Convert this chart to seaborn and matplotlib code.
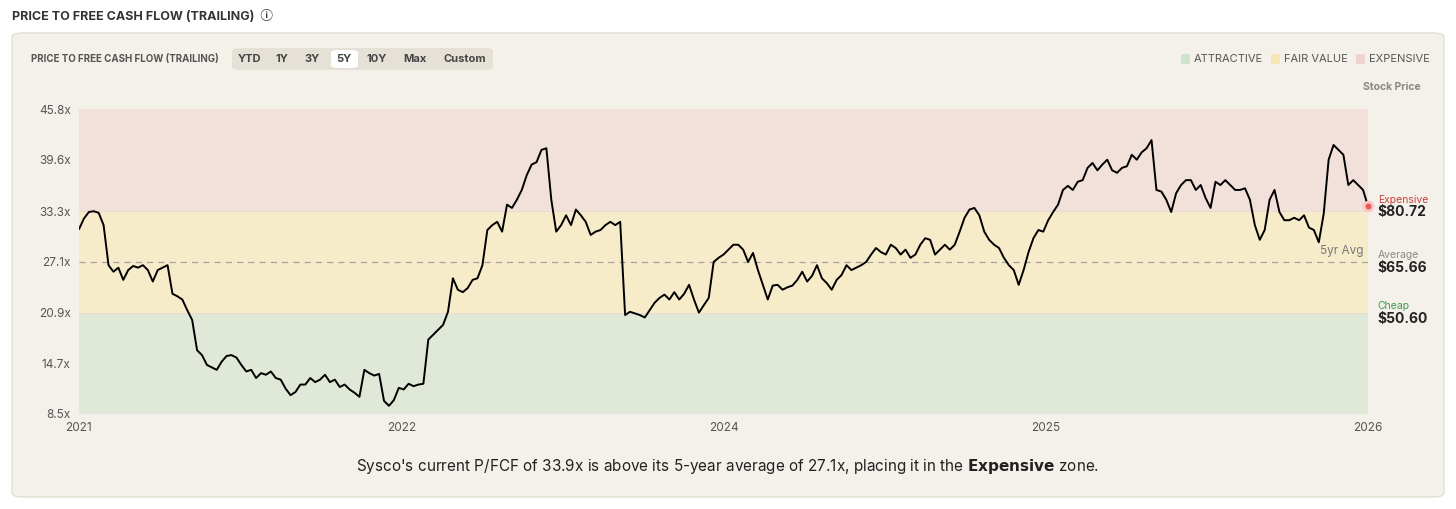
import numpy as np
import pandas as pd
import matplotlib.pyplot as plt
import seaborn as sns
from matplotlib.patches import FancyBboxPatch

# P/FCF multiple, sampled evenly from start of 2021 to 2026
pfcf = [31.1, 32.4, 33.2, 33.3, 33.1, 31.6, 26.7, 25.9, 26.4, 24.9, 26.1, 26.6, 26.4, 26.7, 26.1, 24.7,
        26.1, 26.4, 26.7, 23.2, 22.9, 22.5, 21.2, 20.0, 16.3, 15.7, 14.5, 14.2, 13.9, 14.9, 15.6, 15.7,
        15.4, 14.5, 13.7, 13.9, 12.9, 13.5, 13.3, 13.7, 12.9, 12.7, 11.6, 10.8, 11.2, 12.1, 12.1, 12.9,
        12.4, 12.7, 13.3, 12.4, 12.7, 11.8, 12.1, 11.5, 11.1, 10.6, 13.9, 13.5, 13.2, 13.4, 10.1, 9.5,
        10.2, 11.7, 11.5, 12.2, 11.9, 12.1, 12.2, 17.6, 18.2, 18.8, 19.4, 21.0, 25.1, 23.7, 23.4, 23.9,
        24.9, 25.1, 26.7, 31.0, 31.6, 32.0, 30.8, 34.1, 33.7, 34.7, 35.9, 37.7, 39.0, 39.3, 40.8, 41.0,
        34.7, 30.8, 31.6, 32.8, 31.6, 33.5, 32.8, 32.0, 30.4, 30.8, 31.0, 31.6, 32.0, 31.6, 32.0, 20.6,
        21.0, 20.8, 20.6, 20.3, 21.2, 22.1, 22.7, 23.1, 22.5, 23.4, 22.5, 23.2, 24.3, 22.5, 20.9, 21.8,
        22.7, 27.1, 27.6, 28.0, 28.6, 29.2, 29.2, 28.6, 27.1, 28.2, 26.1, 24.3, 22.5, 24.2, 24.3, 23.7,
        24.0, 24.2, 24.9, 25.9, 24.7, 25.4, 26.7, 25.1, 24.5, 23.7, 24.9, 25.5, 26.7, 26.1, 26.4, 26.7,
        27.1, 28.0, 28.8, 28.3, 28.0, 29.2, 28.8, 28.0, 28.6, 27.6, 28.0, 29.2, 30.0, 29.8, 28.0, 28.6,
        29.2, 28.6, 29.2, 30.8, 32.5, 33.5, 33.7, 32.8, 30.8, 29.8, 29.2, 28.8, 27.6, 26.7, 26.1, 24.3,
        26.1, 28.3, 30.0, 31.0, 30.8, 32.2, 33.2, 34.1, 35.9, 36.4, 35.9, 36.9, 37.1, 38.6, 39.2, 38.3,
        39.0, 39.6, 38.3, 38.0, 38.6, 38.8, 40.2, 39.6, 40.5, 41.0, 42.0, 35.9, 35.7, 34.7, 33.2, 35.5,
        36.5, 37.1, 37.1, 35.9, 36.5, 34.9, 33.7, 36.9, 36.5, 37.1, 36.5, 35.9, 35.9, 36.1, 34.7, 31.6,
        29.8, 31.0, 34.7, 35.9, 33.2, 32.2, 32.2, 32.5, 32.2, 32.8, 31.3, 31.0, 29.5, 33.0, 39.6, 41.4,
        40.8, 40.2, 36.5, 37.1, 36.5, 35.9, 33.9]
year_ticks = ['2021', '2022', '2024', '2025', '2026']
y_ticks = [8.5, 14.7, 20.9, 27.1, 33.3, 39.6, 45.8]
cheap_max, expensive_min, avg_5y, current = 20.9, 33.3, 27.1, 33.9
side_labels = [('Expensive', '$80.72', '#c8423b'), ('Average', '$65.66', '#8a8a8a'), ('Cheap', '$50.60', '#3e9a4f')]

df = pd.DataFrame({'t': np.linspace(0, 4, len(pfcf)), 'pfcf': pfcf})

sns.set_theme(style='white')
plt.rcParams['font.family'] = ['Inter', 'DejaVu Sans', 'Noto Sans CJK SC']

fig = plt.figure(figsize=(14.56, 5.09), dpi=100)
fig.patch.set_facecolor('white')
card = FancyBboxPatch((12 / 1456, 12 / 509), 1432 / 1456, 464 / 509, boxstyle='round,pad=0,rounding_size=0.008',
                      transform=fig.transFigure, facecolor='#f4f1ea', edgecolor='#e3ded3', lw=1, zorder=-2)
fig.patches.append(card)

ax = fig.add_axes([79 / 1456, 1 - 414 / 509, 1289 / 1456, 305 / 509])
ax.set_zorder(2)
ax.set_facecolor('none')
ax.axhspan(y_ticks[0], cheap_max, color='#e0e8d8', lw=0)
ax.axhspan(cheap_max, expensive_min, color='#f7ecca', lw=0)
ax.axhspan(expensive_min, y_ticks[-1], color='#f2e0da', lw=0)
ax.axhline(cheap_max, color='#e6e0cc', lw=0.8)
ax.axhline(expensive_min, color='#eadccf', lw=0.8)
ax.axhline(avg_5y, color='#a8a39a', lw=0.9, ls=(0, (5, 4)))
sns.lineplot(data=df, x='t', y='pfcf', ax=ax, color='black', lw=1.4)
ax.scatter([4], [current], s=40, color='#e85a55', edgecolor='#f6c9c6', lw=2, zorder=5, clip_on=False)
ax.text(3.985, avg_5y + 0.6, '5yr Avg', ha='right', va='bottom', fontsize=8.5, color='#777777')

ax.set_xlim(0, 4)
ax.set_ylim(y_ticks[0], y_ticks[-1])
ax.set_xticks(range(5), year_ticks)
ax.set_yticks(y_ticks, [f'{v}x' for v in y_ticks])
ax.tick_params(axis='both', labelsize=8.5, colors='#555555', length=0, pad=6)
ax.set_xlabel('')
ax.set_ylabel('')
sns.despine(ax=ax, left=True, bottom=True)

for (lab, price, col), yv in zip(side_labels, [current, avg_5y, cheap_max]):
    ax.text(4.03, yv + 0.2, lab, fontsize=7.5, color=col, va='bottom', clip_on=False)
    ax.text(4.03, yv + 0.1, price, fontsize=10, fontweight='bold', color='#222222', va='top', clip_on=False)

fig.text(12 / 1456, 1 - 17 / 509, 'PRICE TO FREE CASH FLOW (TRAILING)  \u24d8', fontsize=9, fontweight='bold',
         color='#333333', va='center')
fig.text(31 / 1456, 1 - 59 / 509, 'PRICE TO FREE CASH FLOW (TRAILING)', fontsize=7, fontweight='bold',
         color='#555555', va='center')
pill = FancyBboxPatch((232 / 1456, 1 - 70 / 509), 261 / 1456, 22 / 509, boxstyle='round,pad=0,rounding_size=0.006',
                      transform=fig.transFigure, facecolor='#e6e1d6', edgecolor='none', zorder=-1)
fig.patches.append(pill)
sel = FancyBboxPatch((331 / 1456, 1 - 68 / 509), 27 / 1456, 18 / 509, boxstyle='round,pad=0,rounding_size=0.005',
                     transform=fig.transFigure, facecolor='white', edgecolor='none', zorder=-1)
fig.patches.append(sel)
for lab, px in zip(['YTD', '1Y', '3Y', '5Y', '10Y', 'Max', 'Custom'], [249, 282, 312, 344, 377, 415, 465]):
    fig.text(px / 1456, 1 - 59 / 509, lab, fontsize=8, fontweight='bold', color='#444444', ha='center', va='center')

for lab, col, px in [('ATTRACTIVE', '#cfe3cc', 1181), ('FAIR VALUE', '#f5e6b4', 1271), ('EXPENSIVE', '#f0d3cf', 1356)]:
    fig.patches.append(FancyBboxPatch((px / 1456, 1 - 64 / 509), 9 / 1456, 10 / 509,
                                      boxstyle='round,pad=0,rounding_size=0.002', transform=fig.transFigure,
                                      facecolor=col, edgecolor='none', zorder=-1))
    fig.text((px + 13) / 1456, 1 - 59 / 509, lab, fontsize=8, color='#555555', va='center')
fig.text(1421 / 1456, 1 - 87 / 509, 'Stock Price', fontsize=7.5, fontweight='bold', color='#888888',
         ha='right', va='center')

fig.text(0.5, 1 - 466 / 509, "Sysco's current P/FCF of 33.9x is above its 5-year average of 27.1x, placing it in the "
         r"$\bf{Expensive}$ zone.", fontsize=11, color='#222222', ha='center', va='center')

fig.savefig('out.png', dpi=100, facecolor='white')
